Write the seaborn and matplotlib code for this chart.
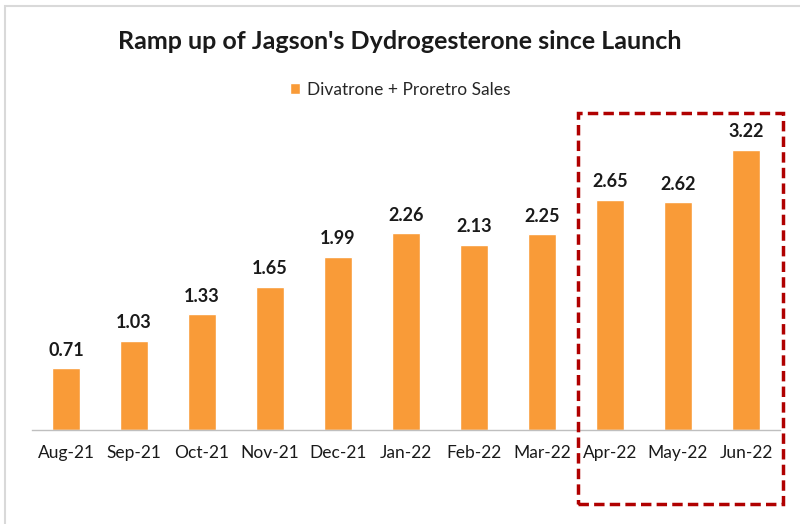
import matplotlib
matplotlib.use("Agg")
import matplotlib.pyplot as plt
from matplotlib.patches import Rectangle
import seaborn as sns
import pandas as pd

months = ["Aug-21", "Sep-21", "Oct-21", "Nov-21", "Dec-21", "Jan-22",
          "Feb-22", "Mar-22", "Apr-22", "May-22", "Jun-22"]
sales = [0.71, 1.03, 1.33, 1.65, 1.99, 2.26, 2.13, 2.25, 2.65, 2.62, 3.22]
series_name = "Divatrone + Proretro Sales"

df = pd.DataFrame({"Month": months, "Sales": sales})

sns.set_style("white")
plt.rcParams["font.family"] = ["Lato", "DejaVu Sans"]

fig = plt.figure(figsize=(8, 5.24), dpi=100)
ax = fig.add_axes([0.04, 0.179, 0.935, 0.598])

sns.barplot(data=df, x="Month", y="Sales", color="#F99B38", width=0.4,
            saturation=1, label=series_name, ax=ax)

# data labels
for i, v in enumerate(sales):
    ax.text(i, v + 0.11, f"{v:.2f}", ha="center", va="bottom",
            fontsize=13, fontweight="bold", color="#1a1a1a")

ax.set_ylim(0, 3.6)
ax.set_xlim(-0.5, len(months) - 0.5)
ax.set_xlabel("")
ax.set_ylabel("")
ax.set_yticks([])
for s in ["top", "right", "left"]:
    ax.spines[s].set_visible(False)
ax.spines["bottom"].set_color("#BFBFBF")
ax.spines["bottom"].set_linewidth(1)

# tick marks at category boundaries
ax.set_xticks(range(len(months)))
ax.set_xticklabels(months, fontsize=12.5, color="#1a1a1a")
ax.tick_params(axis="x", which="major", length=0, pad=11)
ax.set_xticks([i - 0.5 for i in range(len(months) + 1)], minor=True)
ax.tick_params(axis="x", which="minor", length=5, color="#BFBFBF", width=1)

# legend at top
ax.legend(loc="center", bbox_to_anchor=(0.5, 0.829), bbox_transform=fig.transFigure,
          frameon=False, fontsize=12.5, handlelength=0.6, handleheight=0.6,
          handletextpad=0.4)

fig.text(0.5, 0.92, "Ramp up of Jagson's Dydrogesterone since Launch",
         ha="center", va="center", fontsize=18, fontweight="bold", color="#1a1a1a")

# light chart border (top and left)
fig.patches.append(Rectangle((5 / 800, -0.1), 1.2, (524 - 6) / 524 + 0.1,
                             transform=fig.transFigure, fill=False,
                             edgecolor="#D9D9D9", linewidth=1.5))

# highlight box around the latest months
fig.patches.append(Rectangle((578 / 800, 20 / 524), 205 / 800, 391 / 524,
                             transform=fig.transFigure, fill=False,
                             edgecolor="#B00000", linewidth=2.5,
                             linestyle=(0, (3, 1.5))))

fig.savefig("out.png", dpi=100)
